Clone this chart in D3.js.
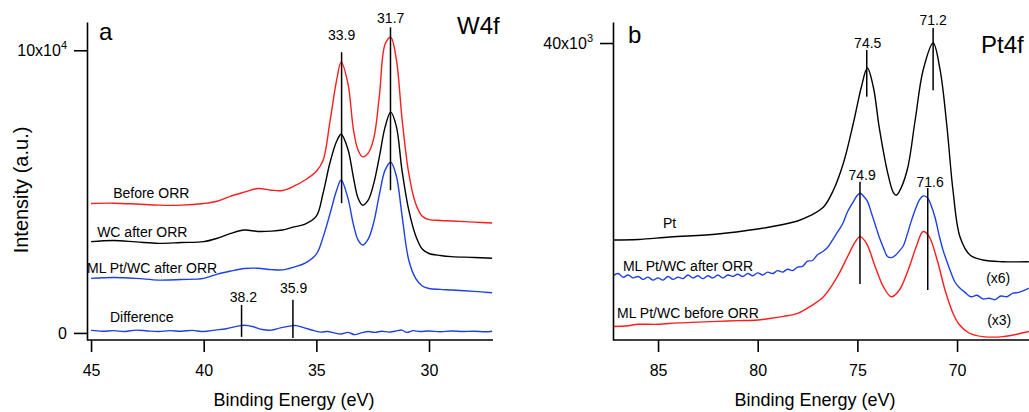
<!DOCTYPE html>
<html><head><meta charset="utf-8">
<script src="https://cdn.jsdelivr.net/npm/d3@7"></script>
<style>
body{margin:0;background:#fff;}
text{font-family:"Liberation Sans",Arial,sans-serif;fill:#000;}
</style></head>
<body><svg id="c" width="1029" height="412"></svg>
<script>
// ---------- Panel a : W4f ----------
const energyA = [45,44,43,42,41,40,39.4,38.8,38.2,37.6,37.0,36.5,36.0,35.5,35.0,34.7,34.4,34.1,33.9,33.6,33.35,33.15,32.95,32.7,32.45,32.2,31.95,31.7,31.45,31.2,30.9,30.6,30.3,30.0,29.5,29,28,27.2];
const beforeORR = [4.58,4.59,4.56,4.52,4.52,4.58,4.66,4.84,4.98,5.11,5.05,5.04,5.19,5.41,5.72,6.11,7.46,8.94,9.58,8.83,7.17,6.47,6.23,6.36,6.89,8.41,10.21,10.46,9.68,7.60,5.65,4.59,4.13,4.01,3.98,3.96,3.92,3.89];
const wcAfterORR = [3.23,3.27,3.22,3.17,3.20,3.23,3.35,3.52,3.64,3.59,3.60,3.64,3.75,3.85,4.13,4.95,6.01,6.78,7.03,6.50,5.48,4.77,4.52,4.70,5.30,6.25,7.28,7.81,7.31,5.76,4.35,3.46,2.97,2.81,2.74,2.70,2.67,2.64];
const mlPtWcAfterA = [1.93,1.96,1.93,1.87,1.89,1.93,2.08,2.19,2.28,2.29,2.24,2.23,2.33,2.47,2.79,3.39,4.20,5.05,5.41,4.77,3.82,3.29,3.11,3.32,3.92,4.91,5.76,6.04,5.55,4.17,2.58,1.94,1.66,1.57,1.54,1.52,1.47,1.42];
const energyDiff = [45.0,44.5,44.0,43.5,43.0,42.5,42.0,41.5,41.0,40.5,40.0,39.5,39.0,38.5,38.2,37.8,37.4,37.0,36.6,36.2,35.9,35.5,35.1,34.8,34.5,34.2,33.9,33.6,33.3,33.0,32.7,32.4,32.1,31.8,31.5,31.2,31.0,30.7,30.4,30.0,29.5,29.0,28.5,28.0,27.5,27.2];
const differenceA = [0.09,0.06,0.08,0.05,0.10,0.07,0.05,0.08,0.06,0.09,0.05,0.10,0.15,0.24,0.27,0.22,0.12,0.10,0.18,0.24,0.26,0.17,0.08,0.03,0.05,0.00,-0.04,0.02,-0.06,0.00,0.05,0.02,0.06,0.03,0.06,0.10,0.02,0.08,0.05,0.07,0.04,0.07,0.05,0.06,0.04,0.06];
const xTicksA = [45,40,35,30];
const yTicksA = [0,10];
const yTickLabelsA = [["0",""],["10x10","4"]];

// ---------- Panel b : Pt4f ----------
const energyPt = [87.26,86,84.4,82,80,79.4,78.0,77.4,76.7,76.2,75.7,75.2,74.8,74.5,74.2,73.9,73.5,73.2,73.05,72.9,72.5,72.1,71.7,71.2,70.85,70.5,70.2,69.85,69.35,68.7,67.7,66.4];
const ptValues = [12.83,12.90,13.24,13.66,14.34,14.62,15.45,16.14,17.38,19.72,23.45,28.97,33.93,36.55,33.93,28.28,22.34,19.4,19.0,19.5,22.48,29.38,36.28,40.0,36.28,28.28,19.59,13.24,10.76,10.07,9.83,9.83];
const energyMlAfter = [87.25,87.0,86.75,86.5,86.25,86.0,85.75,85.5,85.25,85.0,84.75,84.5,84.25,84.0,83.75,83.5,83.25,83.0,82.75,82.5,82.25,82.0,81.75,81.5,81.25,81.0,80.75,80.5,80.25,80.0,79.75,79.5,79.25,79.0,78.75,78.5,78.25,78.0,77.75,77.5,77.25,77.0,76.75,76.5,76.25,76.0,75.75,75.5,75.25,75.0,74.85,74.7,74.5,74.3,74.1,73.9,73.7,73.5,73.3,73.1,72.9,72.7,72.5,72.3,72.1,71.9,71.7,71.5,71.3,71.1,70.9,70.7,70.5,70.3,70.1,69.9,69.6,69.3,69.0,68.7,68.4,68.1,67.8,67.5,67.2,66.9,66.6,66.4];
const mlAfterValues = [7.9,8.2,7.7,8.0,7.6,7.8,7.4,7.7,7.3,7.6,7.3,7.8,7.4,7.7,7.5,8.0,7.6,7.9,7.5,7.9,7.6,8.0,7.6,8.0,7.8,8.1,7.8,8.2,7.9,8.3,8.0,8.4,8.2,8.6,8.4,8.8,8.6,9.1,9.2,9.9,10.0,10.8,11.2,11.8,12.8,13.9,15.0,16.7,17.9,19.0,19.3,18.9,18.2,16.6,14.9,13.2,11.8,10.6,10.4,10.7,11.3,12.0,13.6,15.4,17.0,18.3,18.9,18.7,17.6,15.9,13.5,11.4,9.8,8.3,7.0,6.3,5.6,5.0,5.2,4.7,4.8,4.6,5.1,5.0,5.5,5.6,5.9,6.2];
const energyMlBefore = [87.25,86.5,86.0,85.0,84.0,83.0,82.0,81.0,80.0,79.4,78.7,78.0,77.4,76.7,76.0,75.5,75.1,74.87,74.55,74.1,73.7,73.3,72.9,72.45,72.05,71.7,71.4,71.0,70.6,70.2,69.9,69.4,68.7,67.7,66.4];
const mlBeforeValues = [0.9,1.0,1.2,1.2,1.4,1.5,1.6,1.7,1.8,2.0,2.3,2.7,3.6,5.0,7.8,10.5,12.6,13.3,12.4,9.1,6.4,5.0,5.9,8.7,11.9,14.0,13.3,10.1,5.9,2.7,1.2,0.0,-0.5,-0.5,0.2];
const xTicksB = [85,80,75,70];
const yTicksB = [40];
const yTickLabelsB = [["40x10","3"]];

// annotations (text, energy, intensity)
const seriesLabelsA = [["Before ORR",44.02,4.95],["WC after ORR",44.73,3.57],["ML Pt/WC after ORR",45.18,2.30],["Difference",44.16,0.57]];
const peakLabelsA = [["33.9",33.88,10.53],["31.7",31.7,11.13],["38.2",38.24,1.27],["35.9",36.01,1.59]];
const peakLinesA = [[33.88,9.93,4.59],[31.71,10.81,5.05],[38.32,0.99,-0.14],[36.04,1.17,-0.18]];
const seriesLabelsB = [["Pt",84.75,15.17],["ML Pt/WC after ORR",86.76,9.24],["ML Pt/WC before ORR",87.06,2.76],["(x6)",68.54,7.59],["(x3)",68.49,1.79]];
const peakLabelsB = [["74.5",74.48,40.0],["71.2",71.2,43.17],["74.9",74.76,21.79],["71.6",71.35,20.83]];
const peakLinesB = [[74.53,39.03,32.6],[71.2,42.07,33.5],[74.87,20.87,6.76],[71.47,20.0,5.93]];

const RED="#ff1c1c", BLUE="#1f3fe6", BLACK="#000";
const svg = d3.select("#c");

function panel(cfg){
  const g = svg.append("g");
  const x = d3.scaleLinear().domain(cfg.xd).range(cfg.xr);
  const y = d3.scaleLinear().domain(cfg.yd).range([340,22]);
  const line = d3.line().x(d=>x(d[0])).y(d=>y(d[1])).curve(d3.curveCatmullRom.alpha(0.5));
  cfg.series.forEach(s=>{
    g.append("path").datum(s.e.map((e,i)=>[e,s.v[i]]))
      .attr("d",line).attr("fill","none").attr("stroke",s.c).attr("stroke-width",1.4).attr("stroke-linejoin","round");
  });
  cfg.lines.forEach(l=>{
    g.append("line").attr("x1",x(l[0])).attr("x2",x(l[0])).attr("y1",y(l[1])).attr("y2",y(l[2]))
      .attr("stroke","#000").attr("stroke-width",1.5);
  });
  cfg.peakLabels.forEach(l=>{
    g.append("text").attr("x",x(l[1])).attr("y",y(l[2])).attr("dy","0.35em")
      .attr("text-anchor","middle").attr("font-size",14).text(l[0]);
  });
  cfg.seriesLabels.forEach(l=>{
    g.append("text").attr("x",x(l[1])).attr("y",y(l[2])).attr("dy","0.35em")
      .attr("font-size",14).text(l[0]);
  });
  // axes
  const xa = d3.axisBottom(x).tickValues(cfg.xTicks).tickSize(12).tickSizeOuter(0).tickPadding(13).tickFormat(d3.format("d"));
  const gx = g.append("g").attr("transform","translate(0,340)").call(xa);
  gx.selectAll("text").attr("font-size",16).attr("font-family","Liberation Sans, Arial, sans-serif");
  const ya = d3.axisLeft(y).tickValues(cfg.yTicks).tickSize(13).tickSizeOuter(0).tickPadding(7).tickFormat("");
  const gy = g.append("g").attr("transform",`translate(${cfg.xr[0]},0)`).call(ya);
  gx.selectAll("path,line").attr("stroke","#000").attr("stroke-width",1.6);
  gy.selectAll("path,line").attr("stroke","#000").attr("stroke-width",1.6);
  gx.select(".domain").attr("d",`M${cfg.xr[0]},0H${cfg.xr[1]}`);
  gy.selectAll(".tick text").each(function(d,i){
    const t=d3.select(this).attr("font-size",16).attr("font-family","Liberation Sans, Arial, sans-serif").attr("fill","#000");
    t.append("tspan").text(cfg.yLabels[i][0]);
    if(cfg.yLabels[i][1]) t.append("tspan").attr("font-size",11).attr("dy",-7).text(cfg.yLabels[i][1]);
  });
  // axis title
  g.append("text").attr("x",cfg.titleX).attr("y",406).attr("text-anchor","middle").attr("font-size",18).text("Binding Energy (eV)");
  g.append("text").attr("x",cfg.letter[1]).attr("y",cfg.letter[2]).attr("dy","0.35em").attr("font-size",24).text(cfg.letter[0]);
  g.append("text").attr("x",cfg.name[1]).attr("y",cfg.name[2]).attr("dy","0.35em").attr("font-size",24).text(cfg.name[0]);
}

panel({xd:[45.18,27.16], xr:[87,493], yd:[-0.25,11.0],
  series:[{e:energyA,v:beforeORR,c:RED},{e:energyA,v:wcAfterORR,c:BLACK},{e:energyA,v:mlPtWcAfterA,c:BLUE},{e:energyDiff,v:differenceA,c:BLUE}],
  lines:peakLinesA, peakLabels:peakLabelsA, seriesLabels:seriesLabelsA,
  xTicks:xTicksA, yTicks:yTicksA, yLabels:yTickLabelsA, titleX:294,
  letter:["a",99,32], name:["W4f",457,26]});

panel({xd:[87.26,66.39], xr:[613,1029], yd:[-0.966,42.9],
  series:[{e:energyPt,v:ptValues,c:BLACK},{e:energyMlAfter,v:mlAfterValues,c:BLUE},{e:energyMlBefore,v:mlBeforeValues,c:RED}],
  lines:peakLinesB, peakLabels:peakLabelsB, seriesLabels:seriesLabelsB,
  xTicks:xTicksB, yTicks:yTicksB, yLabels:yTickLabelsB, titleX:815,
  letter:["b",628,35], name:["Pt4f",981,45]});

svg.append("text").attr("transform","translate(21,190) rotate(-90)").attr("dy","0.35em")
  .attr("text-anchor","middle").attr("font-size",20).text("Intensity (a.u.)");
</script></body></html>
